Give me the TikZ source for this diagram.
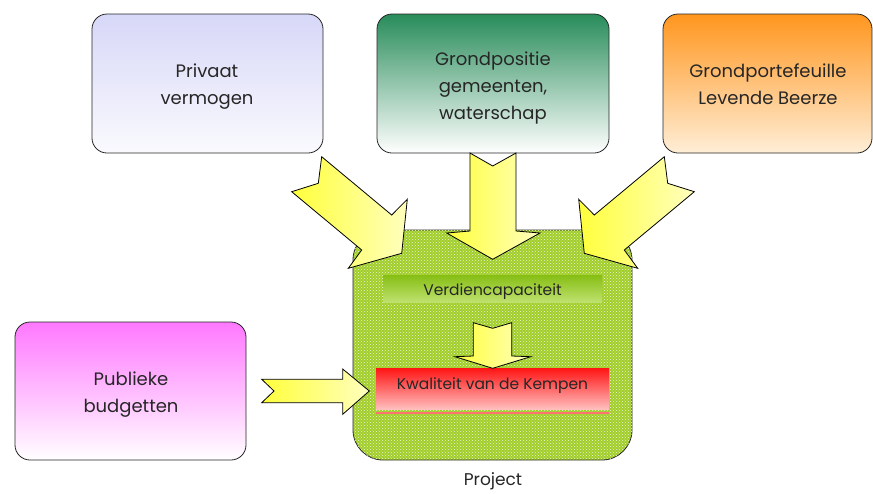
\documentclass[tikz,border=0pt]{standalone}
\usepackage{fontspec}
\setmainfont{Poppins}
\usetikzlibrary{patterns}
\definecolor{lav}{RGB}{215,215,248}
\definecolor{lavlight}{RGB}{250,250,254}
\definecolor{dgreen}{RGB}{40,140,90}
\definecolor{orangetop}{RGB}{255,150,30}
\definecolor{orangebot}{RGB}{255,238,215}
\definecolor{magtop}{RGB}{255,120,255}
\definecolor{projgreen}{RGB}{160,205,40}
\definecolor{vcTop}{RGB}{135,190,20}
\definecolor{vcBot}{RGB}{190,225,110}
\definecolor{yelA}{RGB}{255,255,60}
\definecolor{yelB}{RGB}{255,255,190}
\definecolor{kwTop}{RGB}{255,20,20}
\definecolor{kwBot}{RGB}{255,190,190}
\begin{document}
\begin{tikzpicture}[x=1pt,y=-1pt,
  srcbox/.style={draw=black!85, line width=0.8pt, rounded corners=15pt},
  lbl/.style={align=center, font=\fontsize{18}{27}\selectfont, text=black!85, inner sep=0pt},
  smalllbl/.style={align=center, font=\fontsize{15.5}{18}\selectfont, text=black!85, inner sep=0pt},
  blockarrow/.style={draw=black, line width=0.8pt, line join=miter, left color=yelA, right color=yelB}]
\useasboundingbox (0,0) rectangle (873,493);

% source boxes
\draw[srcbox, top color=lav, bottom color=lavlight] (92,14) rectangle (323,153);
\draw[srcbox, top color=dgreen, bottom color=white] (377,14) rectangle (609,153);
\draw[srcbox, top color=orangetop, bottom color=orangebot] (663,14) rectangle (872,153);
\draw[srcbox, top color=magtop, bottom color=white] (15,322) rectangle (246,460);

\node[lbl] (priv) at (207,87) {Privaat\\vermogen};
\node[lbl] (grond) at (493,88) {Grondpositie\\gemeenten,\\waterschap};
\node[lbl] (port) at (768,84) {Grondportefeuille\\Levende Beerze};
\node[lbl] (pub) at (131,395) {Publieke\\budgetten};

% project box
\draw[draw=black!85, line width=0.8pt, rounded corners=30pt, fill=projgreen,
      postaction={pattern=crosshatch dots, pattern color=white!80!projgreen}]
  (353,230) rectangle (632,460);
\node[font=\fontsize{17}{20}\selectfont, text=black!85] (proj) at (493,481) {Project};

% Verdiencapaciteit band
\shade[top color=vcTop, bottom color=vcBot] (383,275) rectangle (602,302);
\node[smalllbl] (vc) at (492.5,292) {Verdiencapaciteit};

% Kwaliteit band
\shade[top color=kwTop, bottom color=kwBot] (376,368) rectangle (609,409);
\draw[kwTop!60, line width=1.5pt] (376,413) -- (609,413);
\node[smalllbl] (kw) at (492.5,386) {Kwaliteit van de Kempen};

% big block arrows
\draw[blockarrow] (321.7,156.7) -- (391.7,215) -- (407.3,199.3) -- (401.7,253.3) -- (348.3,268.3) -- (361.7,250) -- (291.7,191.7) -- (318.3,183.3) -- cycle;
\draw[blockarrow] (664.3,156.7) -- (594.3,215) -- (578.7,199.3) -- (584.3,253.3) -- (637.7,268.3) -- (624.3,250) -- (694.3,191.7) -- (667.7,183.3) -- cycle;
\draw[blockarrow] (470,153) -- (492.7,166) -- (516,153) -- (516,231) -- (540,233) -- (492.7,259.3) -- (446.7,233) -- (470,231) -- cycle;
\draw[blockarrow] (261.7,379.3) -- (342.7,379.3) -- (342.7,369) -- (369.3,391) -- (342.7,414.3) -- (342.7,402.7) -- (261.7,402.7) -- (274,391) -- cycle;
\draw[blockarrow] (473.3,322.7) -- (492.7,328.3) -- (511.7,322.7) -- (511.7,356) -- (530.7,356.7) -- (492.7,368.3) -- (455,356.7) -- (473.3,356) -- cycle;
\end{tikzpicture}
\end{document}
